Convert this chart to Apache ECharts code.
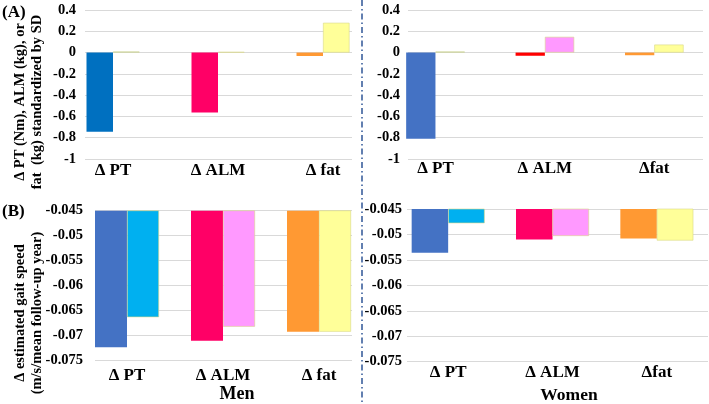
<!DOCTYPE html>
<html>
<head>
<meta charset="utf-8">
<script src="https://cdn.jsdelivr.net/npm/echarts@6/dist/echarts.min.js"></script>
<style>
html,body{margin:0;padding:0;background:#fff;}
#chart{width:709px;height:404px;}
</style>
</head>
<body>
<div id="chart"></div>
<script>
// ---- data ----
const catsMen = ['Δ PT', 'Δ ALM', 'Δ fat'];
const catsWomen = ['Δ PT', 'Δ ALM', 'Δfat'];
// (A) standardized change: first bar / second bar per category
const menA1 = [-0.745, -0.563, -0.032];
const menA2 = [0.01, 0.006, 0.28];
const womenA1 = [-0.81, -0.03, -0.025];
const womenA2 = [0.01, 0.148, 0.075];
// (B) estimated gait speed change (m/s/mean follow-up year)
const menB1 = [-0.0723, -0.0710, -0.0692];
const menB2 = [-0.0663, -0.0682, -0.0692];
const womenB1 = [-0.0536, -0.0510, -0.0508];
const womenB2 = [-0.0478, -0.0503, -0.0512];
// axis ranges / tick labels
const aMin = -1, aMax = 0.4, aStep = 0.2;
const bMin = -0.075, bMax = -0.045, bStep = 0.005;
const bTicks = ['-0.075', '-0.07', '-0.065', '-0.06', '-0.055', '-0.05', '-0.045'];

// ---- styles ----
const colMenA1 = ['#0070C0', '#FF0066', '#FF9933'];
const colWomenA1 = ['#4472C4', '#FF0000', '#FF9933'];
const colA2 = ['#9DC3E6', '#FF99FF', '#FFFF99'];
const colB1 = ['#4472C4', '#FF0066', '#FF9933'];
const colB2 = ['#00B0F0', '#FF99FF', '#FFFF99'];
const FONT = '"Liberation Serif", "Times New Roman", serif';

const chart = echarts.init(document.getElementById('chart'), null, {renderer: 'canvas'});

const axisGrids = [
  {left: 85, top: 10, width: 267, height: 149},
  {left: 408, top: 10, width: 295, height: 149},
  {left: 95, top: 210.7, width: 257, height: 150},
  {left: 407, top: 209, width: 301, height: 152.7}
];
const barGrids = [
  {left: 60.5, top: 10, width: 315, height: 149},
  {left: 380.75, top: 10, width: 355.5, height: 149},
  {left: 79, top: 210.7, width: 288, height: 150},
  {left: 396, top: 209, width: 329, height: 152.7}
];
const labelMargins = [9, 8, 12, 5];
const catMargins = [3.5, 1.5, 6, 2];
const barWidths = [26.5, 29.3, 32, 36.5];
const cats = [catsMen, catsWomen, catsMen, catsWomen];
const series1 = [menA1, womenA1, menB1, womenB1];
const series2 = [menA2, womenA2, menB2, womenB2];
const cols1 = [colMenA1, colWomenA1, colB1, colB1];
const cols2 = [colA2, colA2, colB2, colB2];

function rng(i) {
  return i < 2 ? {min: aMin, max: aMax, interval: aStep} : {min: bMin, max: bMax, interval: bStep};
}

const grid = [], xAxis = [], yAxis = [], series = [];
for (let i = 0; i < 4; i++) {
  const r = rng(i);
  grid.push(axisGrids[i]);
  xAxis.push({type: 'category', gridIndex: i, data: cats[i], show: false});
  yAxis.push({
    type: 'value', gridIndex: i, min: r.min, max: r.max, interval: r.interval,
    axisLine: {show: false}, axisTick: {show: false},
    // B tick labels are placed below via the axis scale (convertToPixel) so no tick gets thinned out
    axisLabel: {show: i < 2, margin: labelMargins[i], color: '#000', fontFamily: FONT, fontWeight: 'bold', fontSize: 14.5},
    splitLine: {lineStyle: {color: '#D9D9D9', width: 1}}
  });
}
for (let i = 0; i < 4; i++) {
  const r = rng(i);
  grid.push(barGrids[i]);
  xAxis.push({
    type: 'category', gridIndex: 4 + i, data: cats[i],
    axisLine: {show: false}, axisTick: {show: false}, splitLine: {show: false},
    axisLabel: {margin: catMargins[i], color: '#000', fontFamily: FONT, fontWeight: 'bold', fontSize: 17, interval: 0}
  });
  yAxis.push({type: 'value', gridIndex: 4 + i, min: r.min, max: r.max, show: false, splitLine: {show: false}});
  const c1 = cols1[i], c2 = cols2[i];
  series.push({
    type: 'bar', xAxisIndex: 4 + i, yAxisIndex: 4 + i, data: series1[i],
    barWidth: barWidths[i], barGap: '0%', clip: true, silent: true,
    itemStyle: {color: p => c1[p.dataIndex]}
  });
  series.push({
    type: 'bar', xAxisIndex: 4 + i, yAxisIndex: 4 + i, data: series2[i],
    barWidth: barWidths[i], barGap: '0%', clip: true, silent: true,
    itemStyle: {color: p => c2[p.dataIndex], borderColor: '#D8D88A', borderWidth: 0.6}
  });
}

chart.setOption({
  animation: false,
  backgroundColor: '#fff',
  grid: grid, xAxis: xAxis, yAxis: yAxis, series: series
});

const graphic = [
  {type: 'text', x: 2, y: 13, style: {text: '(A)', fill: '#000', font: 'bold 17px ' + FONT, textAlign: 'left', textVerticalAlign: 'middle'}},
  {type: 'text', x: 2, y: 212, style: {text: '(B)', fill: '#000', font: 'bold 17px ' + FONT, textAlign: 'left', textVerticalAlign: 'middle'}},
  {type: 'text', x: 29, y: 102, rotation: Math.PI / 2,
    style: {text: 'Δ PT (Nm), ALM (kg), or\nfat  (kg) standardized by SD', fill: '#000', font: 'bold 14.5px ' + FONT, lineHeight: 17, textAlign: 'center', textVerticalAlign: 'middle'}},
  {type: 'text', x: 29, y: 313, rotation: Math.PI / 2,
    style: {text: 'Δ estimated gait speed\n(m/s/mean follow-up year)', fill: '#000', font: 'bold 14.5px ' + FONT, lineHeight: 17, textAlign: 'center', textVerticalAlign: 'middle'}},
  {type: 'text', x: 237, y: 394, style: {text: 'Men', fill: '#000', font: 'bold 18px ' + FONT, textAlign: 'center', textVerticalAlign: 'middle'}},
  {type: 'text', x: 569, y: 395, style: {text: 'Women', fill: '#000', font: 'bold 17.5px ' + FONT, textAlign: 'center', textVerticalAlign: 'middle'}},
  {type: 'line', z: 10, shape: {x1: 362, y1: 0, x2: 362, y2: 404},
    style: {stroke: '#2F5597', lineWidth: 1.5, lineDash: [6, 3, 1.5, 3]}}
];
[2, 3].forEach(function (ai) {
  const xRight = axisGrids[ai].left - labelMargins[ai];
  bTicks.forEach(function (t) {
    const y = chart.convertToPixel({yAxisIndex: ai}, parseFloat(t));
    graphic.push({type: 'text', x: xRight, y: y, z: 5,
      style: {text: t, fill: '#000', font: 'bold 14.5px ' + FONT, textAlign: 'right', textVerticalAlign: 'middle'}});
  });
});
chart.setOption({graphic: graphic});
</script>
</body>
</html>
